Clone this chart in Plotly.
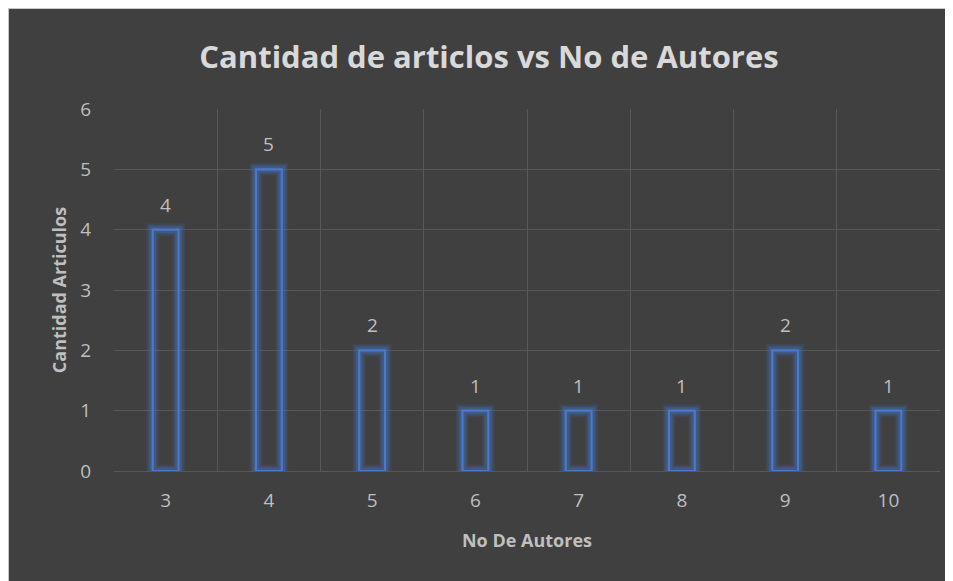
import plotly.graph_objects as go

autores = ["3", "4", "5", "6", "7", "8", "9", "10"]
articulos = [4, 5, 2, 1, 1, 1, 2, 1]
y_ticks = [0, 1, 2, 3, 4, 5, 6]

BG = "#404040"
GRID = "#575757"
TXT = "#bfbfbf"
BLUE = "#4a78cc"
FONT = "'Open Sans', sans-serif"

# page body adds an 8px margin, figure sized to fit the window
W, H = 945, 573
ML, MR, MT, MB = 106, 13, 101, 110
pw, ph = W - ML - MR, H - MT - MB

def px_x(p):
    return (p - ML) / pw

def px_y(p):
    return (H - MB - p) / ph

fig = go.Figure()
# glow layers
for lw, op in [(13, 0.12), (10, 0.18), (7, 0.28)]:
    fig.add_trace(go.Bar(
        x=autores, y=articulos, width=0.25,
        marker=dict(color="rgba(0,0,0,0)", line=dict(color=f"rgba(68,114,196,{op})", width=lw)),
        hoverinfo="skip", showlegend=False,
    ))
fig.add_trace(go.Bar(
    x=autores, y=articulos, width=0.25,
    marker=dict(color="rgba(0,0,0,0)", line=dict(color=BLUE, width=2.2)),
    showlegend=False,
))

# data labels (category axis: annotation x given as category index)
annotations = [
    dict(x=i, y=v, xref="x", yref="y", text=str(v), showarrow=False,
         yanchor="middle", yshift=25, font=dict(size=19, color=TXT, family=FONT))
    for i, v in enumerate(articulos)
]

fig.update_layout(
    width=W, height=H,
    margin=dict(l=ML, r=MR, t=MT, b=MB),
    paper_bgcolor=BG, plot_bgcolor=BG,
    barmode="overlay",
    font=dict(family=FONT, color=TXT),
    title=dict(text="Cantidad de articlos vs No de Autores",
               x=481 / W, xanchor="center", y=1 - 49 / H, yanchor="middle",
               font=dict(size=31, color="#d9d9d9", family=FONT, weight="bold")),
    xaxis=dict(type="category", tickson="boundaries", ticklen=0,
               range=[-0.5, len(autores) - 0.5],
               showgrid=True, gridcolor=GRID, gridwidth=1,
               tickfont=dict(size=19, color=TXT), ticklabelstandoff=16,
               title=dict(text="No De Autores", font=dict(size=18, color=TXT, weight="bold"), standoff=22),
               showline=False, zeroline=False),
    yaxis=dict(range=[0, 6], tickvals=y_ticks, showgrid=True, gridcolor=GRID, gridwidth=1,
               zeroline=True, zerolinecolor=GRID, zerolinewidth=1,
               tickfont=dict(size=19, color=TXT), ticklabelstandoff=22,
               title=dict(text="Cantidad Articulos", font=dict(size=18, color=TXT, weight="bold"), standoff=8),
               showline=False),
    annotations=annotations,
    shapes=[
        dict(type="line", xref="paper", yref="paper", x0=px_x(0), x1=px_x(W), y0=px_y(0.5), y1=px_y(0.5),
             line=dict(color="#c8c8c8", width=1), layer="above"),
        dict(type="line", xref="paper", yref="paper", x0=px_x(0.5), x1=px_x(0.5), y0=px_y(0), y1=px_y(H),
             line=dict(color="#c8c8c8", width=1), layer="above"),
    ],
)

fig.write_html("out.html")
